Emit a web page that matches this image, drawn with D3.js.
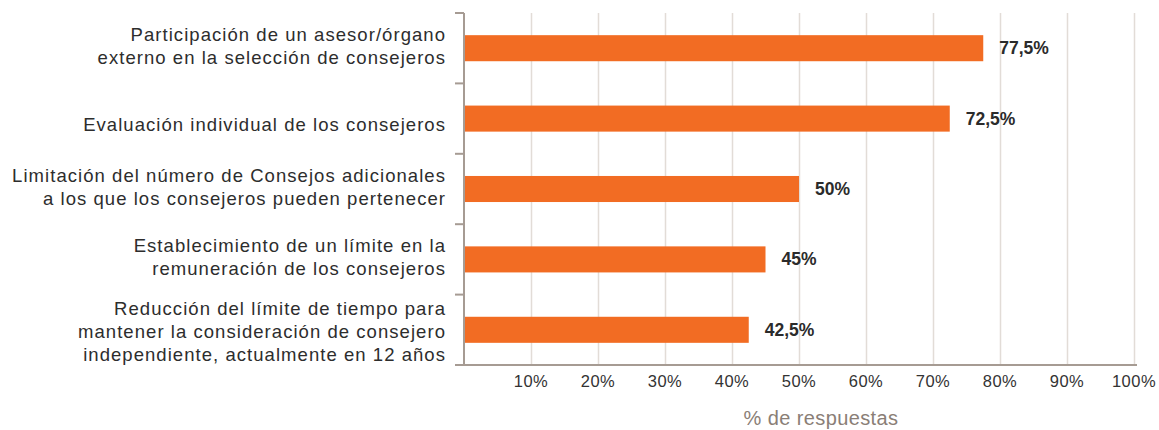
<!DOCTYPE html>
<html>
<head>
<meta charset="utf-8">
<script src="https://cdn.jsdelivr.net/npm/d3@7"></script>
<style>
  html, body { margin: 0; padding: 0; background: #ffffff; }
  svg { display: block; }
</style>
</head>
<body>
<svg id="chart" width="1159" height="430"></svg>
<script>
const categories = [
  ["Participación de un asesor/órgano", "externo en la selección de consejeros"],
  ["Evaluación individual de los consejeros"],
  ["Limitación del número de Consejos adicionales", "a los que los consejeros pueden pertenecer"],
  ["Establecimiento de un límite en la", "remuneración de los consejeros"],
  ["Reducción del límite de tiempo para", "mantener la consideración de consejero", "independiente, actualmente en 12 años"]
];
const values = [77.5, 72.5, 50, 45, 42.5];
const valueLabels = ["77,5%", "72,5%", "50%", "45%", "42,5%"];
const xTicks = [10, 20, 30, 40, 50, 60, 70, 80, 90, 100];
const xTickLabels = ["10%", "20%", "30%", "40%", "50%", "60%", "70%", "80%", "90%", "100%"];
const axisTitle = "% de respuestas";

const svg = d3.select("#chart");
const font = "'Liberation Sans', Arial, Helvetica, sans-serif";
const mLeft = 464, mRight = 1134, mTop = 13, mBottom = 365;

const ids = categories.map((c, i) => i);
const x = d3.scaleLinear().domain([0, 100]).range([mLeft, mRight]);
const y = d3.scaleBand().domain(ids).range([mTop, mBottom]).paddingInner(0.63).paddingOuter(0.315);
const yb = d3.scaleBand().domain(ids).range([mTop, mBottom]);

// gridlines
svg.append("g").selectAll("line").data(xTicks).join("line")
  .attr("x1", d => x(d) + 0.5).attr("x2", d => x(d) + 0.5)
  .attr("y1", mTop).attr("y2", mBottom)
  .attr("stroke", "#e2dcd7").attr("stroke-width", 1.5);

// bars
svg.append("g").selectAll("rect").data(values).join("rect")
  .attr("x", x(0) + 1)
  .attr("y", (d, i) => y(i))
  .attr("width", d => x(d) - x(0) - 1)
  .attr("height", y.bandwidth())
  .attr("fill", "#f26c23");

// value labels
svg.append("g").selectAll("text").data(values).join("text")
  .attr("x", d => x(d) + 16)
  .attr("y", (d, i) => y(i) + y.bandwidth() / 2 + 6)
  .attr("font-family", font).attr("font-weight", "bold")
  .attr("font-size", "17.5px").attr("fill", "#2b2b2b")
  .text((d, i) => valueLabels[i]);

// y axis
const axisColor = "#a69b93";
const boundaries = ids.map(i => yb(i)).concat([mBottom]);
svg.append("line").attr("x1", mLeft).attr("x2", mLeft).attr("y1", mTop).attr("y2", mBottom)
  .attr("stroke", axisColor).attr("stroke-width", 2);
svg.append("g").selectAll("line").data(boundaries).join("line")
  .attr("x1", mLeft - 9).attr("x2", mLeft).attr("y1", d => d).attr("y2", d => d)
  .attr("stroke", axisColor).attr("stroke-width", 2);
// x axis baseline
svg.append("line").attr("x1", mLeft - 9).attr("x2", mRight + 3).attr("y1", mBottom).attr("y2", mBottom)
  .attr("stroke", axisColor).attr("stroke-width", 2);

// x tick labels
svg.append("g").selectAll("text").data(xTicks).join("text")
  .attr("x", d => x(d))
  .attr("y", 387)
  .attr("text-anchor", "middle")
  .attr("font-family", font).attr("font-size", "16.5px").attr("letter-spacing", "0.5px")
  .attr("fill", "#333333")
  .text((d, i) => xTickLabels[i]);

// category labels
const offsetByLines = {1: 12, 2: 4.5, 3: 8};
const lineH = 23;
const cat = svg.append("g").selectAll("text").data(categories).join("text")
  .attr("text-anchor", "end")
  .attr("font-family", font).attr("font-size", "18.5px").attr("letter-spacing", "1.05px")
  .attr("fill", "#2d2d2d");
cat.each(function(lines, i) {
  const c = yb(i) + yb.bandwidth() / 2;
  const n = lines.length;
  d3.select(this).selectAll("tspan").data(lines).join("tspan")
    .attr("x", 446)
    .attr("y", (l, j) => c + lineH * (j - (n - 1) / 2) + offsetByLines[n])
    .text(l => l);
});

// axis title
svg.append("text")
  .attr("x", 821).attr("y", 425)
  .attr("text-anchor", "middle")
  .attr("font-family", font).attr("font-size", "20px").attr("letter-spacing", "0.4px")
  .attr("fill", "#8a7e76")
  .text(axisTitle);
</script>
</body>
</html>
